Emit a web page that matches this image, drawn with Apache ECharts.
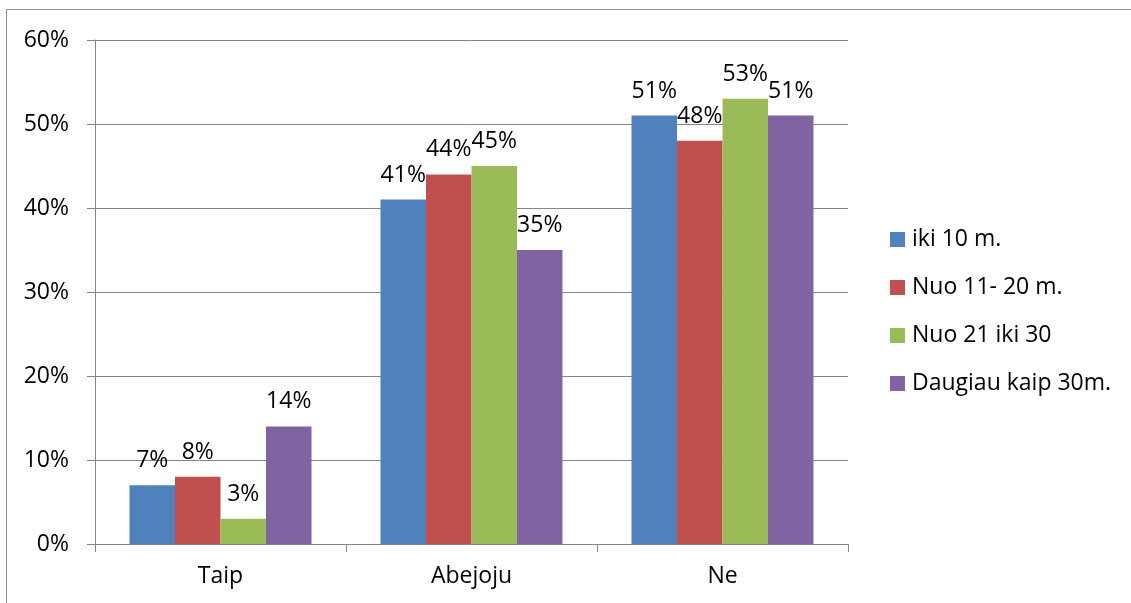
<!DOCTYPE html>
<html>
<head>
<meta charset="utf-8">
<script src="https://cdn.jsdelivr.net/npm/echarts@6/dist/echarts.min.js"></script>
<style>
html,body{margin:0;padding:0;background:#fff;}
#c{width:1131px;height:603px;}
</style>
</head>
<body>
<div id="c"></div>
<script>
const categories = ['Taip', 'Abejoju', 'Ne'];
const seriesNames = ['iki 10 m.', 'Nuo 11- 20 m.', 'Nuo 21 iki 30', 'Daugiau kaip 30m.'];
const iki10 = [7, 41, 51];
const nuo11_20 = [8, 44, 48];
const nuo21_30 = [3, 45, 53];
const daugiau30 = [14, 35, 51];
const yTicks = [0, 10, 20, 30, 40, 50, 60];

const colors = ['#4F81BD', '#C0504D', '#9BBB59', '#8064A2'];
const FONT = 'Open Sans';
const FS = 23;
const seriesData = [iki10, nuo11_20, nuo21_30, daugiau30];

const chart = echarts.init(document.getElementById('c'), null, {renderer: 'canvas'});
chart.setOption({
  animation: false,
  backgroundColor: '#fff',
  textStyle: {fontFamily: FONT},
  graphic: [{
    type: 'rect',
    shape: {x: 6.5, y: 9.5, width: 1300, height: 800},
    style: {fill: 'none', stroke: '#8c8c8c', lineWidth: 1},
    silent: true
  }],
  grid: {left: 95, top: 40, right: 283, bottom: 59, containLabel: false},
  legend: {
    orient: 'vertical',
    left: 885,
    top: 223,
    itemWidth: 15,
    itemHeight: 15,
    itemGap: 25,
    icon: 'rect',
    textStyle: {fontFamily: FONT, fontSize: FS, color: '#000', padding: [0, 0, 0, 2]},
    data: seriesNames
  },
  xAxis: {
    type: 'category',
    data: categories,
    axisLine: {lineStyle: {color: '#868686', width: 1}},
    axisTick: {show: true, length: 8, lineStyle: {color: '#868686'}},
    axisLabel: {fontFamily: FONT, fontSize: FS, color: '#000', margin: 21}
  },
  yAxis: {
    type: 'value',
    min: yTicks[0],
    max: yTicks[yTicks.length - 1],
    interval: 10,
    axisLine: {show: true, lineStyle: {color: '#868686', width: 1}},
    axisTick: {show: true, length: 8, lineStyle: {color: '#868686'}},
    splitLine: {show: true, lineStyle: {color: '#868686', width: 1}},
    axisLabel: {fontFamily: FONT, fontSize: FS, color: '#000', margin: 26, formatter: v => v + '%'}
  },
  series: seriesNames.map((name, i) => ({
    name: name,
    type: 'bar',
    data: seriesData[i],
    barGap: '0%',
    barCategoryGap: '27.5%',
    itemStyle: {color: colors[i]},
    label: {
      show: true,
      position: 'top',
      distance: 13,
      fontFamily: FONT,
      fontSize: FS,
      color: '#000',
      formatter: p => p.value + '%'
    }
  }))
});
</script>
</body>
</html>
